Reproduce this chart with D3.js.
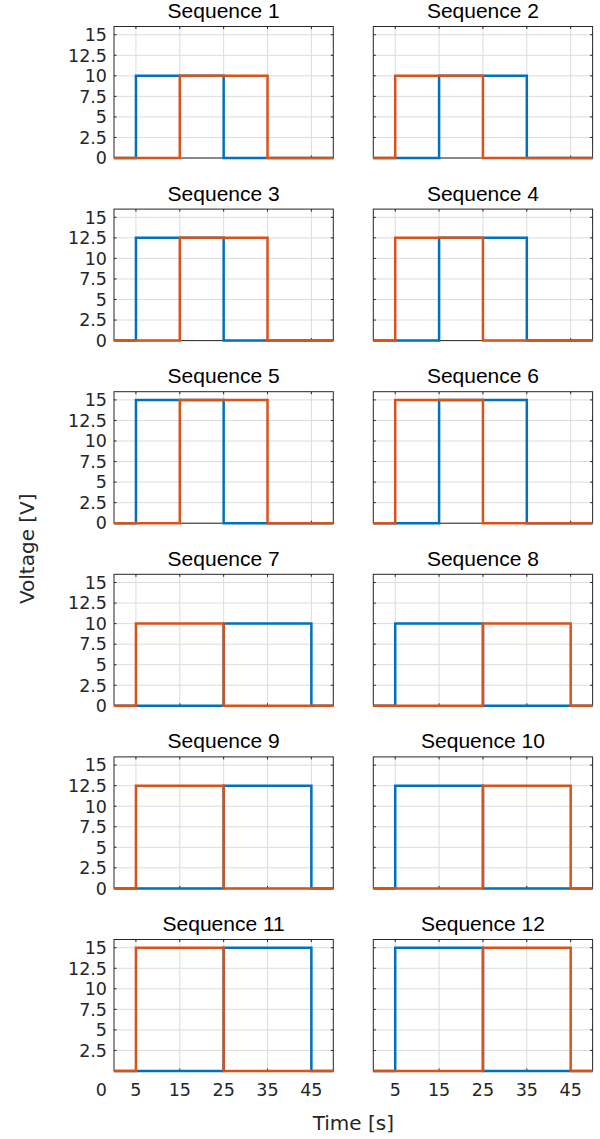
<!DOCTYPE html>
<html>
<head>
<meta charset="utf-8">
<script src="https://cdn.jsdelivr.net/npm/d3@7"></script>
<style>
  body { margin: 0; background: #fff; }
  text { font-family: "DejaVu Sans", sans-serif; }
</style>
</head>
<body>
<script>
// each sequence: level and [start,end] of the high pulse for blue and orange
var titles = ["Sequence 1","Sequence 2","Sequence 3","Sequence 4","Sequence 5","Sequence 6",
              "Sequence 7","Sequence 8","Sequence 9","Sequence 10","Sequence 11","Sequence 12"];
var levels = [10, 10, 12.5, 12.5, 15, 15, 10, 10, 12.5, 12.5, 15, 15];
var bluePulse = [[5,25],[15,35],[5,25],[15,35],[5,25],[15,35],
                 [25,45],[5,25],[25,45],[5,25],[25,45],[5,25]];
var orangePulse = [[15,35],[5,25],[15,35],[5,25],[15,35],[5,25],
                   [5,25],[25,45],[5,25],[25,45],[5,25],[25,45]];
var xTicks = [5, 15, 25, 35, 45];
var yTicks = [0, 2.5, 5, 7.5, 10, 12.5, 15];

var W = 600, H = 1139;
var colX = [114, 373.3], plotW = 219.3;
var top0 = 26.5, rowStep = 182.6, plotH = 131.5;

var svg = d3.select("body").append("svg")
    .attr("width", W).attr("height", H);

function pulse(p, lvl) {
    return [[0,0],[p[0],0],[p[0],lvl],[p[1],lvl],[p[1],0],[50,0]];
}

titles.forEach(function(t, i) {
    var row = Math.floor(i / 2), col = i % 2;
    var x0 = colX[col], y0 = top0 + row * rowStep;
    var x = d3.scaleLinear().domain([0, 50]).range([0, plotW]);
    var y = d3.scaleLinear().domain([0, 16]).range([plotH, 0]);
    var g = svg.append("g").attr("transform", "translate(" + x0 + "," + y0 + ")");

    // grid
    g.selectAll(".gx").data(xTicks).enter().append("line")
        .attr("x1", d => x(d)).attr("x2", d => x(d))
        .attr("y1", 0).attr("y2", plotH)
        .attr("stroke", "#dcdcdc").attr("stroke-width", 1);
    g.selectAll(".gy").data(yTicks).enter().append("line")
        .attr("y1", d => y(d)).attr("y2", d => y(d))
        .attr("x1", 0).attr("x2", plotW)
        .attr("stroke", "#dcdcdc").attr("stroke-width", 1);

    // box
    g.append("rect").attr("width", plotW).attr("height", plotH)
        .attr("fill", "none").attr("stroke", "#262626").attr("stroke-width", 1);

    // inward ticks
    var tl = 2.5;
    yTicks.forEach(function(d) {
        g.append("line").attr("x1", 0).attr("x2", tl).attr("y1", y(d)).attr("y2", y(d))
            .attr("stroke", "#262626");
        g.append("line").attr("x1", plotW).attr("x2", plotW - tl).attr("y1", y(d)).attr("y2", y(d))
            .attr("stroke", "#262626");
    });
    xTicks.forEach(function(d) {
        g.append("line").attr("y1", 0).attr("y2", tl).attr("x1", x(d)).attr("x2", x(d))
            .attr("stroke", "#262626");
        g.append("line").attr("y1", plotH).attr("y2", plotH - tl).attr("x1", x(d)).attr("x2", x(d))
            .attr("stroke", "#262626");
    });

    var line = d3.line().x(d => x(d[0])).y(d => y(d[1]));
    g.append("path").datum(pulse(bluePulse[i], levels[i]))
        .attr("d", line).attr("fill", "none")
        .attr("stroke", "#0072BD").attr("stroke-width", 2.5);
    g.append("path").datum(pulse(orangePulse[i], levels[i]))
        .attr("d", line).attr("fill", "none")
        .attr("stroke", "#D95319").attr("stroke-width", 2.5);

    // y tick labels on left column
    if (col === 0) {
        var yl = (row === 5) ? yTicks.slice(1) : yTicks;
        g.selectAll(".yl").data(yl).enter().append("text")
            .attr("x", -7).attr("y", d => y(d)).attr("dy", "0.36em")
            .attr("text-anchor", "end").attr("font-size", 17.5).attr("fill", "#262626")
            .text(d => d);
        if (row === 5) {
            g.append("text").attr("x", -7).attr("y", plotH + 25)
                .attr("text-anchor", "end").attr("font-size", 17.5).attr("fill", "#262626")
                .text("0");
        }
    }
    if (row === 5) {
        g.selectAll(".xl").data(xTicks).enter().append("text")
            .attr("x", d => x(d)).attr("y", plotH + 25)
            .attr("text-anchor", "middle").attr("font-size", 17.5).attr("fill", "#262626")
            .text(d => d);
    }

    g.append("text").attr("x", plotW / 2).attr("y", -8.5)
        .attr("text-anchor", "middle").attr("font-size", 21).attr("fill", "#000")
        .style("font-family", "'Liberation Sans', Arial, sans-serif")
        .text(t);
});

svg.append("text").attr("x", (colX[0] + colX[1] + plotW) / 2).attr("y", 1130)
    .attr("text-anchor", "middle").attr("font-size", 20).attr("fill", "#262626")
    .text("Time [s]");
svg.append("text")
    .attr("transform", "translate(34," + (top0 + (5 * rowStep + plotH) / 2) + ") rotate(-90)")
    .attr("text-anchor", "middle").attr("font-size", 20).attr("fill", "#262626")
    .text("Voltage [V]");
</script>
</body>
</html>
